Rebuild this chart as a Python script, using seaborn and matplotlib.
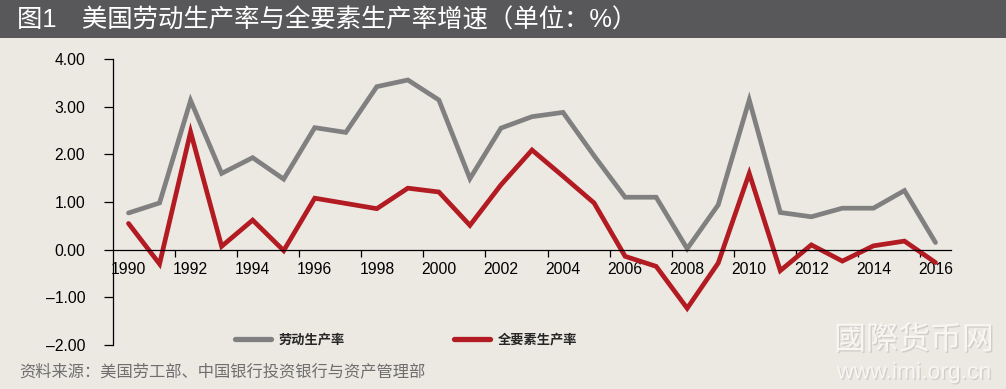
import numpy as np
import pandas as pd
import matplotlib
matplotlib.use('Agg')
import matplotlib.pyplot as plt
import matplotlib.patheffects as pe
from matplotlib.patches import Rectangle
import seaborn as sns

# 数据
years = list(range(1990, 2017))
labor = [0.77, 0.98, 3.13, 1.60, 1.93, 1.48, 2.56, 2.46, 3.42, 3.56, 3.14, 1.49, 2.55, 2.79,
         2.88, 1.97, 1.10, 1.10, 0.02, 0.94, 3.14, 0.78, 0.69, 0.87, 0.87, 1.24, 0.15]
tfp = [0.55, -0.30, 2.47, 0.07, 0.62, -0.02, 1.08, 0.97, 0.86, 1.29, 1.21, 0.51, 1.36, 2.09,
       1.54, 0.98, -0.14, -0.35, -1.23, -0.28, 1.60, -0.44, 0.10, -0.24, 0.08, 0.18, -0.27]
series_names = ['劳动生产率', '全要素生产率']
yticks = [-2, -1, 0, 1, 2, 3, 4]
xlabels = list(range(1990, 2017, 2))

df = pd.DataFrame({
    '年份': years * 2,
    '增速': labor + tfp,
    '指标': [series_names[0]] * len(years) + [series_names[1]] * len(years),
})

sns.set_theme(style='white')
plt.rcParams['font.family'] = ['Liberation Sans', 'Noto Sans CJK SC', 'DejaVu Sans']

bg = '#ece9e3'
W, H = 1006, 389
fig = plt.figure(figsize=(W / 100, H / 100), dpi=100, facecolor=bg)

# 标题栏
fig.patches.append(Rectangle((0, 1 - 38 / H), 1, 38 / H, transform=fig.transFigure,
                             facecolor='#58585a', edgecolor='none', zorder=0))
fig.text(17 / W, 1 - 20 / H, '图1\u3000美国劳动生产率与全要素生产率增速（单位：%）',
         color='white', fontsize=18.3, va='center', ha='left')

ax = fig.add_axes([113 / W, 1 - 345 / H, (951 - 113) / W, (345 - 59) / H])
ax.set_facecolor(bg)

sns.lineplot(data=df, x='年份', y='增速', hue='指标', palette=['#808080', '#b31b23'],
             linewidth=3.4, ax=ax, legend=False, solid_joinstyle='miter')

ax.set_xlim(1989.5, 2016.5)
ax.set_ylim(-2, 4)
ax.set_xlabel('')
ax.set_ylabel('')

for s in ['top', 'right']:
    ax.spines[s].set_visible(False)
ax.spines['bottom'].set_position(('data', 0))
for s in ['left', 'bottom']:
    ax.spines[s].set_color('black')
    ax.spines[s].set_linewidth(0.9)

ax.set_xticks(np.arange(1991.5, 2016.5, 2))
ax.set_xticklabels([])
ax.set_xticks(xlabels, minor=True)
ax.set_xticklabels([str(y) for y in xlabels], minor=True)
ax.tick_params(axis='x', which='major', bottom=True, direction='out', length=5, width=0.9, color='black')
ax.tick_params(axis='x', which='minor', bottom=True, length=0, pad=9, labelsize=11.3, labelcolor='black')

ax.set_yticks(yticks)
ax.set_yticklabels([f'{v:.2f}'.replace('-', '–') for v in yticks])
ax.tick_params(axis='y', left=True, direction='out', length=6.5, width=0.9, color='black',
               pad=13.5, labelsize=11.3, labelcolor='black')
ax.grid(False)

# 图例
leg = fig.legend(handles=ax.lines[:2], labels=series_names, loc='center left',
                 bbox_to_anchor=(235 / W, 1 - 340 / H), ncol=2, frameon=False,
                 handlelength=2.7, handletextpad=0.6, columnspacing=8.3,
                 borderpad=0, borderaxespad=0, prop={'size': 9.5, 'weight': 'bold'})
for ln in leg.get_lines():
    ln.set_linewidth(3.8)

# 资料来源
fig.text(19 / W, 1 - 371 / H, '资料来源：美国劳工部、中国银行投资银行与资产管理部',
         fontsize=11.7, color='#6e6e6e', va='center', ha='left')

# 水印
shadow = [pe.withSimplePatchShadow(offset=(1, -1), shadow_rgbFace='#b8b5ae', alpha=0.5)]
fig.text(914 / W, 1 - 340 / H, '國際货币网', fontsize=23, color='#f7f6f3', ha='center', va='center',
         family=['Noto Sans CJK TC', 'DejaVu Sans'], path_effects=shadow)
fig.text(914 / W, 1 - 372 / H, 'www.imi.org.cn', fontsize=16.5, color='#f7f6f3', ha='center', va='center',
         path_effects=shadow)

fig.savefig('out.png', dpi=100, facecolor=bg)
